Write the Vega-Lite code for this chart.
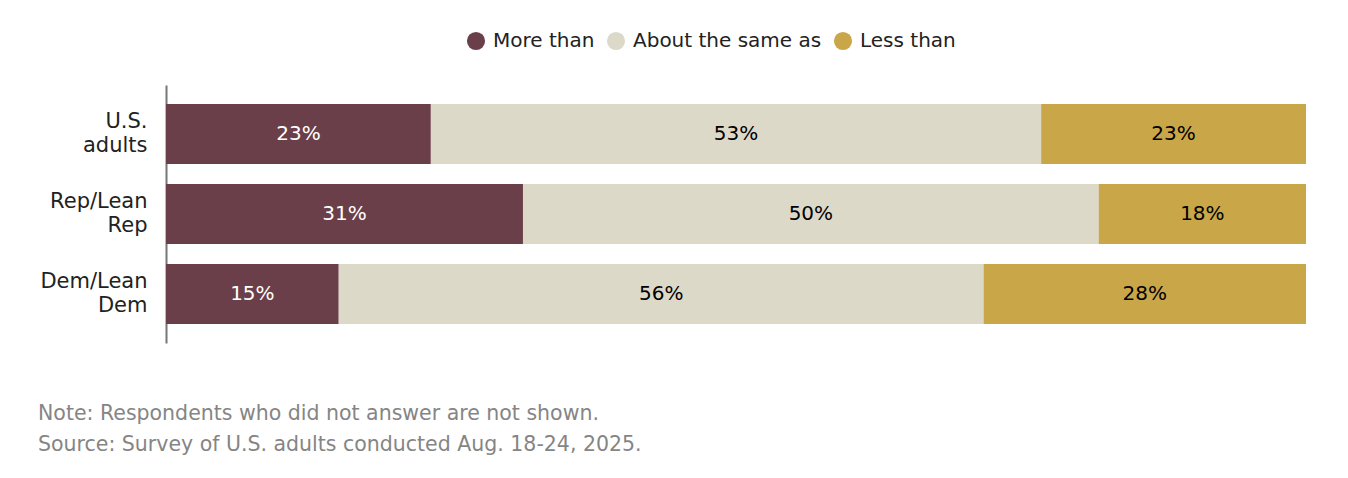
{
  "$schema": "https://vega.github.io/schema/vega-lite/v6.json",
  "autosize": {"type": "none"},
  "width": 1140,
  "height": 258,
  "padding": {"left": 166, "top": 85, "right": 42, "bottom": 135},
  "background": "white",
  "config": {
    "view": {"stroke": null},
    "font": "DejaVu Sans"
  },
  "title": {
    "text": ["Note: Respondents who did not answer are not shown.", "Source: Survey of U.S. adults conducted Aug. 18-24, 2025."],
    "orient": "bottom",
    "anchor": "start",
    "frame": "group",
    "dx": -128,
    "offset": 61,
    "fontSize": 20.5,
    "fontWeight": "normal",
    "color": "#858585",
    "lineHeight": 31,
    "font": "DejaVu Sans"
  },
  "data": {
    "values": [
      {"group": "U.S. adults", "response": "More than", "pct": 23},
      {"group": "U.S. adults", "response": "About the same as", "pct": 53},
      {"group": "U.S. adults", "response": "Less than", "pct": 23},
      {"group": "Rep/Lean Rep", "response": "More than", "pct": 31},
      {"group": "Rep/Lean Rep", "response": "About the same as", "pct": 50},
      {"group": "Rep/Lean Rep", "response": "Less than", "pct": 18},
      {"group": "Dem/Lean Dem", "response": "More than", "pct": 15},
      {"group": "Dem/Lean Dem", "response": "About the same as", "pct": 56},
      {"group": "Dem/Lean Dem", "response": "Less than", "pct": 28}
    ]
  },
  "transform": [
    {"calculate": "indexof(['More than','About the same as','Less than'], datum.response)", "as": "ord"},
    {"stack": "pct", "groupby": ["group"], "sort": [{"field": "ord", "order": "ascending"}], "offset": "normalize", "as": ["x0", "x1"]},
    {"calculate": "(datum.x0 + datum.x1) / 2", "as": "xm"},
    {"calculate": "datum.pct + '%'", "as": "label"}
  ],
  "encoding": {
    "y": {
      "field": "group",
      "type": "nominal",
      "sort": ["U.S. adults", "Rep/Lean Rep", "Dem/Lean Dem"],
      "scale": {"paddingInner": 0.25, "paddingOuter": 0.2375},
      "axis": {
        "title": null,
        "ticks": false,
        "labelExpr": "split(datum.label, ' ')",
        "labelFontSize": 21,
        "labelLineHeight": 24,
        "labelOffset": -12,
        "labelColor": "#222222",
        "labelPadding": 19,
        "domainColor": "#777777",
        "domainWidth": 2,
        "labelFont": "DejaVu Sans"
      }
    }
  },
  "layer": [
    {
      "mark": {"type": "bar"},
      "encoding": {
        "x": {"field": "x0", "type": "quantitative", "scale": {"domain": [0, 1]}, "axis": null},
        "x2": {"field": "x1"},
        "color": {
          "field": "response",
          "type": "nominal",
          "scale": {"domain": ["More than", "About the same as", "Less than"], "range": ["#6b3f4a", "#dcd9c9", "#c9a648"]},
          "legend": {
            "title": null,
            "orient": "none",
            "direction": "horizontal",
            "legendX": 300,
            "legendY": -54,
            "symbolType": "circle",
            "symbolSize": 330,
            "symbolStrokeWidth": 0,
            "labelFontSize": 20,
            "labelLimit": 400,
            "labelColor": "#222222",
            "labelFont": "DejaVu Sans",
            "columnPadding": 11,
            "labelOffset": 7
          }
        }
      }
    },
    {
      "mark": {"type": "text", "fontSize": 20, "baseline": "middle", "align": "center", "font": "DejaVu Sans"},
      "encoding": {
        "x": {"field": "xm", "type": "quantitative"},
        "text": {"field": "label", "type": "nominal"},
        "color": {
          "condition": {"test": "datum.response == 'More than'", "value": "white"},
          "value": "black"
        }
      }
    }
  ]
}
